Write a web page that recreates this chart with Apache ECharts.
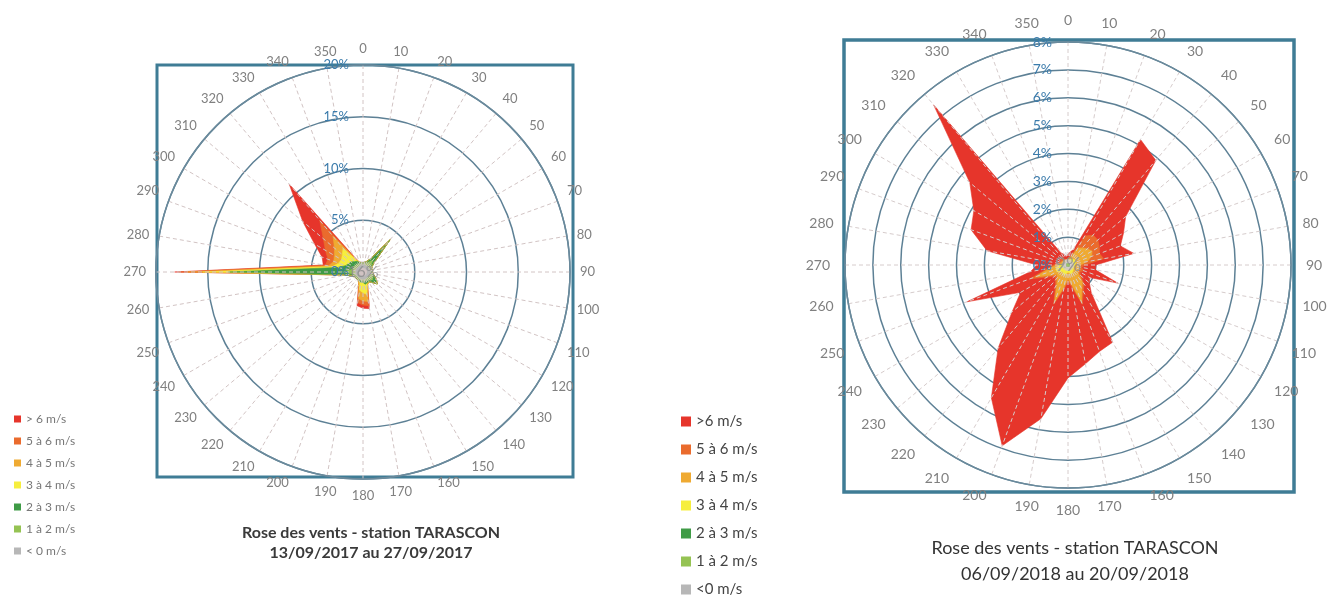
<!DOCTYPE html>
<html><head><meta charset="utf-8">
<script src="https://cdn.jsdelivr.net/npm/echarts@6/dist/echarts.min.js"></script>
<style>html,body{margin:0;padding:0;background:#fff}#c{width:1341px;height:599px}</style>
</head><body><div id="c"></div>
<script>
// ---- categories / ticks ----
const directions = [0,10,20,30,40,50,60,70,80,90,100,110,120,130,140,150,160,170,180,190,200,210,220,230,240,250,260,270,280,290,300,310,320,330,340,350];
const classNames = ['> 6 m/s','5 à 6 m/s','4 à 5 m/s','3 à 4 m/s','2 à 3 m/s','1 à 2 m/s','< 0 m/s'];
const classColors = ['#e6352b','#ea6b2d','#efaa32','#f6ee3e','#3f9b46','#95c353','#b7b7b7'];
const ringTicks2017 = [0,5,10,15,20];
const ringTicks2018 = [0,1,2,3,4,5,6,7,8];
const calmLabel2017 = '16%';
const calmLabel2018 = '9%';
const title2017 = 'Rose des vents - station TARASCON\n13/09/2017 au 27/09/2017';
const title2018 = 'Rose des vents - station TARASCON\n06/09/2018 au 20/09/2018';

// ---- 2017 (%), one value per direction ----
const calm2017 = [0.7,0.7,0.7,0.7,0.7,0.7,0.7,0.7,0.7,0.7,0.7,0.7,0.7,0.7,0.7,0.7,0.7,0.7,0.7,0.7,0.7,0.7,0.7,0.7,0.7,0.7,0.7,0.7,0.7,0.7,0.7,0.7,0.7,0.7,0.7,0.7];
const s12_2017 = [0.1,0.1,0.2,0.3,0.8,0.3,0.2,0.1,0.1,0.1,0.2,0.3,0.4,0.5,0.3,0.2,0.2,0.2,0.2,0.2,0.1,0.1,0.1,0.1,0.1,0.2,0.3,1.3,0.5,0.3,0.3,0.3,0.3,0.2,0.1,0.1];
const s23_2017 = [0.1,0.1,0.2,0.5,2.6,0.4,0.1,0.1,0.1,0.1,0.1,0.2,0.4,0.6,0.3,0.2,0.3,0.3,0.1,0.1,0.2,0.1,0.1,0.1,0.1,0.1,0.7,11.0,1.3,0.8,0.6,0.5,0.5,0.3,0.2,0.1];
const s34_2017 = [0,0,0,0,0,0,0,0,0,0,0,0,0,0,0,0,0.1,1.0,1.0,0.8,0.1,0,0,0,0,0,0,2.5,0.5,0.7,0.8,1.1,1.5,0.2,0,0];
const s45_2017 = [0,0,0,0,0,0,0,0,0,0,0,0,0,0,0,0,0,0.7,0.8,0.8,0.1,0,0,0,0,0,0,1.5,0.4,0.5,0.8,1.0,1.5,0.1,0,0];
const s56_2017 = [0,0,0,0,0,0,0,0,0,0,0,0,0,0,0,0,0,0.4,0.4,0.4,0,0,0,0,0,0,0,0.8,0.3,0.6,1.0,1.4,2.0,0.1,0,0];
const s6_2017  = [0,0,0,0,0,0,0,0,0,0,0,0,0,0,0,0,0,0.3,0.3,0.3,0,0,0,0,0,0,0,0.4,0.2,0.6,1.2,2.6,4.6,0.1,0,0];

// ---- 2018 (%), one value per direction ----
const calm2018 = [0.03,0.03,0.03,0.03,0.03,0.03,0.03,0.03,0.03,0.03,0.03,0.03,0.03,0.03,0.03,0.03,0.03,0.03,0.03,0.03,0.03,0.03,0.03,0.03,0.03,0.03,0.03,0.03,0.03,0.03,0.03,0.03,0.03,0.03,0.03,0.03];
const s12_2018 = [0.04,0.04,0.04,0.04,0.04,0.04,0.04,0.04,0.04,0.04,0.04,0.04,0.04,0.04,0.04,0.04,0.04,0.04,0.04,0.04,0.04,0.04,0.04,0.04,0.06,0.06,0.06,0.04,0.04,0.04,0.04,0.04,0.04,0.04,0.04,0.04];
const s23_2018 = [0.06,0.06,0.06,0.06,0.06,0.06,0.06,0.06,0.06,0.06,0.06,0.06,0.06,0.06,0.06,0.06,0.06,0.06,0.06,0.06,0.06,0.06,0.06,0.08,0.1,0.1,0.1,0.08,0.06,0.06,0.06,0.06,0.06,0.06,0.06,0.06];
const s34_2018 = [0.02,0.02,0.05,0.12,0.12,0.17,0.17,0.17,0.17,0.12,0.12,0.09,0.07,0.09,0.15,0.17,0.22,0.17,0.12,0.17,0.27,0.22,0.17,0.22,0.27,0.27,0.22,0.17,0.07,0.05,0.05,0.05,0.05,0.02,0.02,0.02];
const s45_2018 = [0.05,0.1,0.12,0.45,0.55,0.6,0.7,0.6,0.4,0.2,0.15,0.23,0.2,0.28,0.52,0.7,1.05,0.4,0.25,0.5,1.0,0.45,0.3,0.15,0.3,0.8,0.25,0.1,0.1,0.07,0.07,0.07,0.07,0.05,0.03,0.03];
const s56_2018 = [0.05,0.05,0.1,0.5,0.6,0.5,0.3,0.3,0.6,0.15,0.1,0.15,0.1,0.1,0.1,0.1,0.1,0.1,0.1,0.1,0.1,0.1,0.1,0.1,0.1,0.2,0.1,0.1,0.05,0.05,0.05,0.05,0.1,0.05,0.02,0.02];
const s6_2018  = [0.15,0.1,0.2,4.0,3.5,1.3,1.0,0.8,1.1,0.4,0.5,1.3,0.4,0.4,0.4,2.1,1.8,2.8,3.45,4.7,5.4,4.6,3.2,2.0,1.1,2.4,0.6,0.6,2.6,3.4,3.6,4.3,7.15,0.25,0.2,0.1];

const layers2017 = [s6_2017,s56_2017,s45_2017,s34_2017,s23_2017,s12_2017,calm2017];
const layers2018 = [s6_2018,s56_2018,s45_2018,s34_2018,s23_2018,s12_2018,calm2018];

function roseSeries(layers, polarIndex) {
  const n = directions.length;
  const cum = [];
  let run = new Array(n).fill(0);
  for (let k = layers.length - 1; k >= 0; k--) {
    run = run.map((v, i) => v + layers[k][i]);
    cum[k] = run.slice();
  }
  return layers.map((_, k) => ({
    name: classNames[k], type: 'line', coordinateSystem: 'polar', polarIndex: polarIndex,
    symbol: 'none', smooth: false, z: 2, silent: true,
    lineStyle: { width: 0.6, color: classColors[k] },
    itemStyle: { color: classColors[k] },
    areaStyle: { color: classColors[k], opacity: 1 },
    data: directions.map((d, i) => [cum[k][i], d]).concat([[cum[k][0], 360]])
  }));
}

const FONT = 'Lato';
function angleAx(polarIndex, margin, fs, spokeColor) {
  return {
    polarIndex, type: 'value', min: 0, max: 360, interval: 10, startAngle: 90, clockwise: true, z: 3,
    axisLine: { lineStyle: { color: '#6a8a9c', width: 1.5 } },
    axisTick: { show: false },
    axisLabel: { color: '#808080', fontSize: fs, fontFamily: FONT, margin: margin,
      formatter: v => (v >= 360 ? '' : String(v)) },
    splitLine: { lineStyle: { type: [4, 3], color: spokeColor, width: 1 } }
  };
}
function hiddenAngle(polarIndex) {
  return { polarIndex, type: 'value', min: 0, max: 360, startAngle: 90, show: false };
}
function ringAx(polarIndex, ticks) {
  return {
    polarIndex, type: 'value', min: ticks[0], max: ticks[ticks.length - 1], interval: ticks[1] - ticks[0], z: 1,
    axisLine: { show: false }, axisTick: { show: false }, axisLabel: { show: false },
    splitLine: { lineStyle: { color: '#5d8095', width: 1.5 } }
  };
}
function labelAx(polarIndex, ticks, margin, fs) {
  return {
    polarIndex, type: 'value', min: ticks[0], max: ticks[ticks.length - 1], interval: ticks[1] - ticks[0], z: 4,
    axisLine: { show: false }, axisTick: { show: false }, splitLine: { show: false },
    axisLabel: { formatter: '{value}%', color: '#3b7bab', fontSize: fs, fontFamily: FONT, margin: margin }
  };
}
function centerLabel(polarIndex, text, fs) {
  return {
    type: 'scatter', coordinateSystem: 'polar', polarIndex, symbolSize: 0, z: 6, silent: true,
    data: [[0, 0]],
    label: { show: true, position: 'inside', formatter: text, color: '#8b8b8b', fontSize: fs, fontFamily: FONT }
  };
}

const chart = echarts.init(document.getElementById('c'), null, { renderer: 'canvas' });
chart.setOption({
  animation: false,
  backgroundColor: '#ffffff',
  title: [
    { text: title2017, left: 366, top: 518, textAlign: 'center',
      textStyle: { fontSize: 16, fontWeight: 'bold', color: '#3a3a3a', lineHeight: 20, fontFamily: FONT } },
    { text: title2018, left: 1070, top: 530, textAlign: 'center',
      textStyle: { fontSize: 18, fontWeight: 'normal', color: '#333', lineHeight: 26, fontFamily: FONT } }
  ],
  legend: [
    { data: classNames, orient: 'vertical', left: 9, top: 408, icon: 'rect', itemWidth: 7, itemHeight: 7, itemGap: 10,
      textStyle: { fontSize: 12, color: '#777', fontFamily: FONT }, selectedMode: false },
    { data: classNames, orient: 'vertical', left: 681, top: 414, padding: 0, height: 185, icon: 'rect', itemWidth: 10, itemHeight: 10, itemGap: 13,
      formatter: n => n.replace('> ', '>').replace('< ', '<'),
      textStyle: { fontSize: 15, color: '#444', fontFamily: FONT }, selectedMode: false }
  ],
  graphic: [
    { type: 'rect', z: 0, shape: { x: 157, y: 65, width: 416, height: 412 }, style: { fill: 'none', stroke: '#3f7c95', lineWidth: 3 } },
    { type: 'rect', z: 0, shape: { x: 844, y: 40, width: 450, height: 452 }, style: { fill: 'none', stroke: '#3f7c95', lineWidth: 3.5 } }
  ],
  polar: [
    { center: [363, 272], radius: 207 },
    { center: [363, 272], radius: 207 },
    { center: [1068, 265], radius: 223 },
    { center: [1068, 265], radius: 223 }
  ],
  angleAxis: [
    angleAx(0, 10, 13, '#d2c4c4'),
    hiddenAngle(1),
    angleAx(2, 15, 14, '#d6cccc'),
    hiddenAngle(3)
  ],
  radiusAxis: [
    ringAx(0, ringTicks2017),
    labelAx(1, ringTicks2017, 14, 13),
    ringAx(2, ringTicks2018),
    labelAx(3, ringTicks2018, 16, 14)
  ],
  series: [].concat(
    roseSeries(layers2017, 0),
    roseSeries(layers2018, 2),
    [centerLabel(1, calmLabel2017, 16), centerLabel(3, calmLabel2018, 19)]
  )
});
</script>
</body></html>
